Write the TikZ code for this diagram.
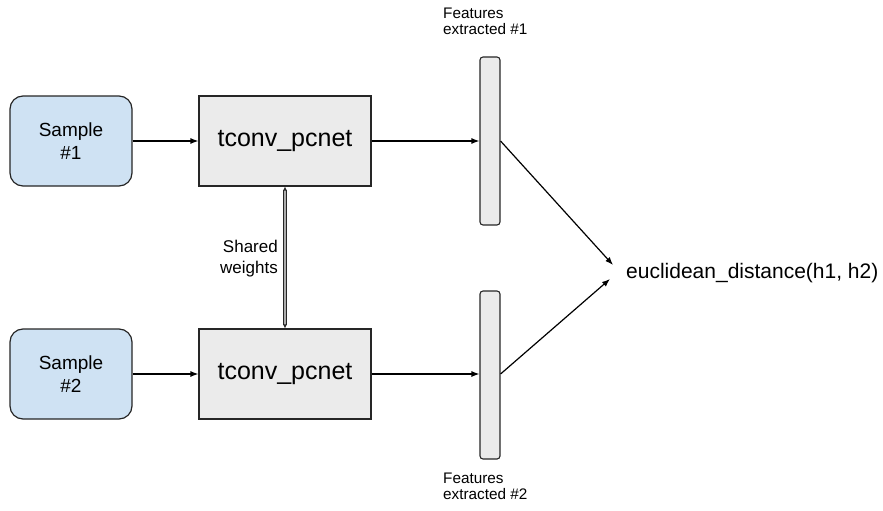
\documentclass[tikz,border=0pt]{standalone}
\usepackage{fontspec}
\setmainfont{Liberation Sans}
\usetikzlibrary{arrows.meta}
\definecolor{samplefill}{HTML}{CFE2F3}
\definecolor{netfill}{HTML}{EBEBEB}
\definecolor{edge}{HTML}{262626}
\begin{document}
\begin{tikzpicture}[x=1pt,y=1pt,
  samplebox/.style={draw=edge, line width=1.2pt, fill=samplefill, rounded corners=13pt,
    minimum width=122pt, minimum height=90pt, align=center, inner sep=0pt,
    font=\fontsize{19}{23}\selectfont},
  netbox/.style={draw=edge, line width=1.1pt, fill=netfill,
    minimum width=172pt, minimum height=90pt, inner sep=0pt,
    font=\fontsize{25}{30}\selectfont},
  featbar/.style={draw=edge, line width=1.1pt, fill=netfill, rounded corners=3pt,
    minimum width=20pt, minimum height=168pt, inner sep=0pt},
  caption/.style={align=left, inner sep=0pt, font=\fontsize{15.3}{16}\selectfont},
  flow/.style={draw=black, line width=1.2pt, -{Latex[length=8pt,width=6pt]}},
  shared/.style={draw=edge, line width=0.8pt, double=gray!65, double distance=2.2pt,
    {Latex[length=4pt,width=4pt]}-{Latex[length=4pt,width=4pt]}}
]
\useasboundingbox (0,0) rectangle (883,-511);

% inputs and the two branches of the shared network
\node[samplebox] (s1) at (71,-141) {Sample\\\#1};
\node[samplebox] (s2) at (71,-374) {Sample\\\#2};
\node[netbox] (t1) at (285,-141) {tconv\_pcnet};
\node[netbox] (t2) at (285,-374) {tconv\_pcnet};

% feature vectors
\node[featbar] (f1) at (490,-141) {};
\node[featbar] (f2) at (490,-375) {};
\node[caption, anchor=north west] (c1) at (443,-8) {Features\\extracted \#1};
\node[caption, anchor=north west] (c2) at (443,-473) {Features\\extracted \#2};

% distance output
\node[anchor=west, inner sep=0pt, font=\fontsize{21}{25}\selectfont] (d) at (626,-273)
  {euclidean\_distance(h1, h2)};
\coordinate (d1) at (613,-265);
\coordinate (d2) at (610,-279);

% weight sharing between branches
\draw[shared] (t1.south) -- (t2.north);
\node[align=right, anchor=east, inner sep=0pt, font=\fontsize{17}{21}\selectfont] (sw)
  at (278,-259) {Shared\\weights};

% data flow
\draw[flow] (s1.east) -- (t1.west);
\draw[flow] (s2.east) -- (t2.west);
\draw[flow] (t1.east) -- (f1.west);
\draw[flow] (t2.east) -- (f2.west |- t2.east);
\draw[flow] (f1.east) -- (d1);
\draw[flow] (f2.east |- t2.east) -- (d2);
\end{tikzpicture}
\end{document}
